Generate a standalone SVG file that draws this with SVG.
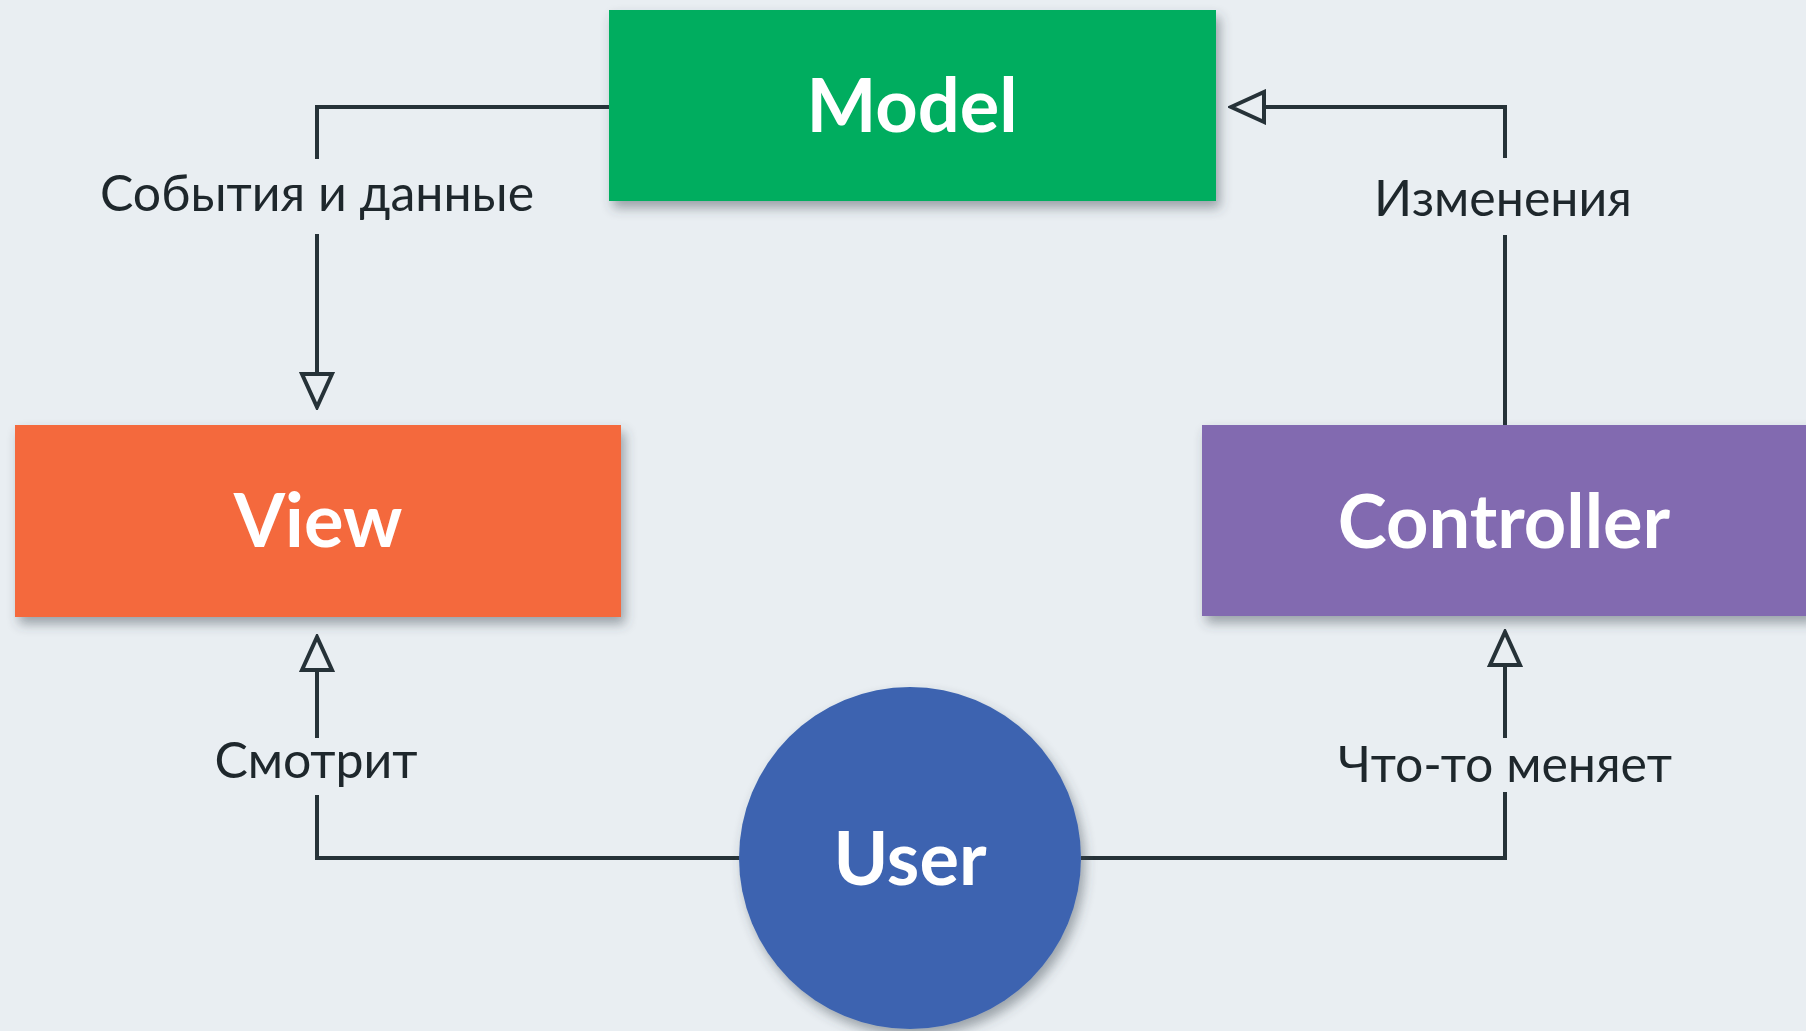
<svg xmlns="http://www.w3.org/2000/svg" width="1806" height="1031" viewBox="0 0 1806 1031">
  <style>
    .title { font-family: Lato, "Open Sans", "Liberation Sans", sans-serif; font-weight: 700; font-size: 74px; fill: #ffffff; text-anchor: middle; }
    .label { font-family: Lato, "Open Sans", "Liberation Sans", sans-serif; font-weight: 400; font-size: 50px; fill: #1e272c; text-anchor: middle; }
    .wire { fill: none; stroke: #263238; stroke-width: 4; stroke-linejoin: miter; }
  </style>
  <defs>
    <filter id="shadow" x="-10%" y="-20%" width="125%" height="150%">
      <feDropShadow dx="4" dy="7" stdDeviation="6" flood-color="#3a4650" flood-opacity="0.45"/>
    </filter>
    <marker id="hollow" markerUnits="userSpaceOnUse" viewBox="-2 -18 38 36" markerWidth="38" markerHeight="36" refX="33" refY="0" orient="auto">
      <path d="M0,-15 L33,0 L0,15 Z" fill="#e9eef2" stroke="#263238" stroke-width="4" stroke-linejoin="miter"/>
    </marker>
  </defs>

  <rect x="0" y="0" width="1806" height="1031" fill="#e9eef2"/>

  <!-- connectors -->
  <g id="connectors">
    <!-- Model -> View -->
    <path class="wire" d="M609,107 H317 V159"/>
    <path class="wire" d="M317,234 V407" marker-end="url(#hollow)"/>
    <!-- Controller -> Model -->
    <path class="wire" d="M1505,426 V235"/>
    <path class="wire" d="M1505,158 V107 H1231" marker-end="url(#hollow)"/>
    <!-- User -> View -->
    <path class="wire" d="M740,858 H317 V795"/>
    <path class="wire" d="M317,738 V637" marker-end="url(#hollow)"/>
    <!-- User -> Controller -->
    <path class="wire" d="M1081,858 H1505 V792"/>
    <path class="wire" d="M1505,738 V632" marker-end="url(#hollow)"/>

    <text class="label" x="317" y="211">События и данные</text>
    <text class="label" x="1503" y="216">Изменения</text>
    <text class="label" x="316" y="778">Смотрит</text>
    <text class="label" x="1505" y="782">Что-то меняет</text>
  </g>

  <g id="model">
    <rect x="609" y="10" width="607" height="191" fill="#00ad5f" filter="url(#shadow)"/>
    <text class="title" x="912" y="132">Model</text>
  </g>

  <g id="view">
    <rect x="15" y="425" width="606" height="192" fill="#f4693d" filter="url(#shadow)"/>
    <text class="title" x="318" y="547">View</text>
  </g>

  <g id="controller">
    <rect x="1202" y="425" width="610" height="191" fill="#826bb0" filter="url(#shadow)"/>
    <text class="title" x="1504" y="548">Controller</text>
  </g>

  <g id="user">
    <circle cx="910" cy="858" r="171" fill="#3c64b0" filter="url(#shadow)"/>
    <text class="title" x="910" y="885">User</text>
  </g>
</svg>
